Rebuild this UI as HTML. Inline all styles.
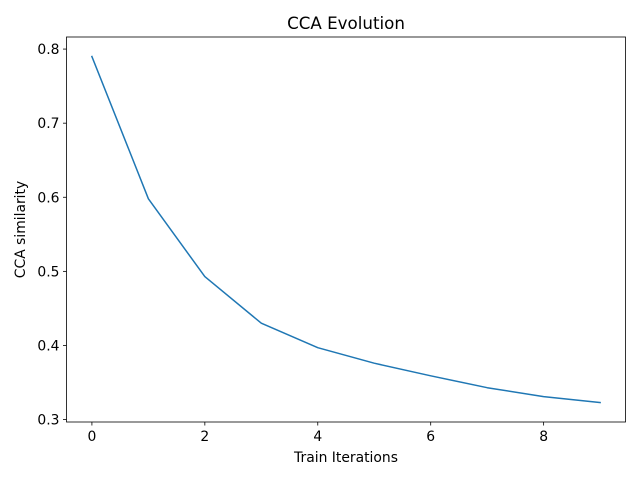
<!DOCTYPE html>
<html><head><meta charset="utf-8"><style>
body{margin:0;background:#fff;}
svg text{font-family:"DejaVu Sans","Liberation Sans",sans-serif;fill:#000;}
</style></head><body>
<svg id="chart" width="640" height="480">
<rect width="640" height="480" fill="#fff"/>
<text x="346" y="29" font-size="16.7" text-anchor="middle">CCA Evolution</text>
<g id="axes"></g>
<text x="346" y="462" font-size="13.9" text-anchor="middle">Train Iterations</text>
<text transform="translate(25,229.5) rotate(-90)" font-size="13.9" text-anchor="middle">CCA similarity</text>
</svg>
<script>
const iterations=[0,1,2,3,4,5,6,7,8,9];
const similarity=[0.790,0.598,0.493,0.430,0.397,0.376,0.359,0.343,0.331,0.323];
const xTicks=[0,2,4,6,8];
const yTicks=[0.3,0.4,0.5,0.6,0.7,0.8];
const L=66.5,R=625.5,T=37,B=422;
const xmin=-0.45,xmax=9.45,ymin=0.2967,ymax=0.8163;
function sx(v){return L+(v-xmin)/(xmax-xmin)*(R-L);}
function sy(v){return B-(v-ymin)/(ymax-ymin)*(B-T);}
const NS="http://www.w3.org/2000/svg";
const g=document.getElementById('axes');
function mk(t,a){const e=document.createElementNS(NS,t);for(const k in a)e.setAttribute(k,a[k]);g.appendChild(e);return e;}
let pts=iterations.map((x,i)=>sx(x).toFixed(1)+','+sy(similarity[i]).toFixed(1)).join(' ');
const line=mk('polyline',{points:pts,fill:'none',stroke:'#1f77b4','stroke-width':1.5,'stroke-linejoin':'round','stroke-linecap':'square'});


const frame=mk('rect',{x:L,y:T,width:R-L,height:B-T,fill:'none',stroke:'#000','stroke-width':0.8});


xTicks.forEach(v=>{const x=sx(v);
mk('line',{x1:x,x2:x,y1:B,y2:B+3.5,stroke:'#000','stroke-width':0.8});
const t=mk('text',{x:x,y:B+19,'font-size':13.9,'text-anchor':'middle'});t.textContent=v;

});
yTicks.forEach(v=>{const y=sy(v);
mk('line',{x1:L-3.5,x2:L,y1:y,y2:y,stroke:'#000','stroke-width':0.8});
const t=mk('text',{x:L-7,y:y+5,'font-size':13.9,'text-anchor':'end'});t.textContent=v.toFixed(1);

});
</script>
</body></html>
